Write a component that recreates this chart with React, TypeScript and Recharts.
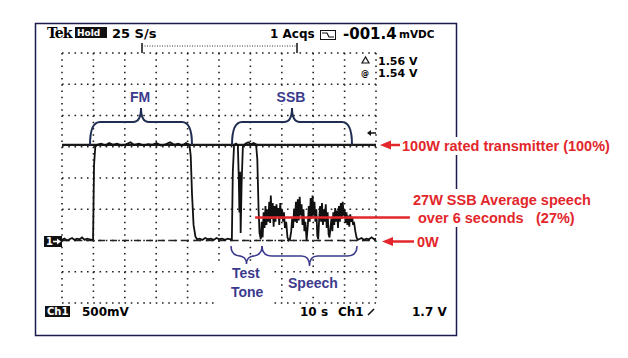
import React from 'react';
import { LineChart, Line, XAxis, YAxis, CartesianGrid, ReferenceLine } from 'recharts';

// time in seconds (10 s/div), level in volts (500 mV/div, 0 V = the "1" marker)
const idleLead: [number, number][] = [
  [0, 0.01], [0.8, 0.03], [1.6, 0.0], [2.4, 0.02], [3.2, 0.04], [4.0, 0.01], [4.8, 0.03],
  [5.6, 0.02], [6.4, 0.05], [7.2, 0.01], [8.0, 0.03], [8.8, 0.02], [9.6, 0.01],
];
const fmPulse: [number, number][] = [
  [9.9, 0.02], [10.2, 1.2], [10.6, 1.5], [11.2, 1.53], [12.5, 1.55], [13.8, 1.52], [15.0, 1.56],
  [16.3, 1.53], [17.5, 1.55], [19.0, 1.52], [20.4, 1.54], [21.8, 1.57], [23.0, 1.53], [24.5, 1.55],
  [26.0, 1.52], [27.4, 1.54], [28.8, 1.53], [30.1, 1.56], [31.5, 1.52], [33.0, 1.54], [34.4, 1.57],
  [35.8, 1.53], [37.0, 1.55], [38.3, 1.52], [39.5, 1.56], [40.6, 1.53], [41.0, 1.35], [41.4, 0.75],
  [41.9, 0.25], [42.5, 0.06], [43.0, 0.02],
];
const idleGap: [number, number][] = [
  [43.8, 0.03], [44.7, 0.01], [45.6, 0.04], [46.5, 0.02], [47.4, 0.03], [48.3, 0.01],
  [49.2, 0.04], [50.1, 0.02], [51.0, 0.03], [51.9, 0.01], [52.8, 0.03], [53.6, 0.02],
];
const testTone: [number, number][] = [
  [54.1, 0.02], [54.4, 1.1], [54.8, 1.53], [55.4, 1.55], [56.0, 1.52], [56.3, 1.0], [56.5, 0.45],
  [56.7, 1.1], [56.9, 0.12], [57.2, 0.9], [57.6, 1.5], [58.4, 1.55], [59.3, 1.57], [60.2, 1.54],
  [61.0, 1.56], [61.8, 1.54], [62.2, 1.3], [62.6, 0.5], [62.9, 0.12],
];
const speech: [number, number][] = [
  [63.0, 0.1], [63.3, 0.02], [63.6, 0.3], [63.9, 0.05], [64.2, 0.45], [64.5, 0.2], [64.8, 0.55],
  [65.1, 0.25], [65.4, 0.5], [65.7, 0.3], [66.0, 0.62], [66.3, 0.28], [66.5, 0.72], [66.8, 0.35],
  [67.1, 0.6], [67.4, 0.22], [67.7, 0.55], [68.0, 0.3], [68.3, 0.58], [68.6, 0.38], [68.9, 0.52],
  [69.2, 0.25], [69.5, 0.6], [69.8, 0.35], [70.1, 0.5], [70.4, 0.3], [70.7, 0.45], [71.0, 0.2],
  [71.4, 0.3], [71.8, 0.05], [72.2, 0.0], [72.6, 0.02], [73.0, 0.15], [73.3, 0.35], [73.6, 0.2],
  [73.9, 0.5], [74.2, 0.3], [74.5, 0.62], [74.8, 0.28], [75.1, 0.66], [75.4, 0.32], [75.7, 0.7],
  [76.0, 0.4], [76.3, 0.58], [76.6, 0.25], [76.9, 0.5], [77.2, 0.15], [77.5, 0.3], [77.9, 0.0],
  [78.3, 0.25], [78.6, 0.55], [78.9, 0.3], [79.2, 0.68], [79.5, 0.35], [79.8, 0.72], [80.1, 0.4],
  [80.4, 0.62], [80.7, 0.3], [81.0, 0.5], [81.3, 0.08], [81.6, 0.02], [81.9, 0.35], [82.2, 0.55],
  [82.5, 0.3], [82.8, 0.6], [83.1, 0.25], [83.4, 0.5], [83.7, 0.3], [84.0, 0.58], [84.3, 0.2],
  [84.6, 0.45], [84.9, 0.1], [85.2, 0.05], [85.5, 0.2], [85.8, 0.35], [86.1, 0.15], [86.4, 0.45],
  [86.7, 0.25], [87.0, 0.52], [87.3, 0.3], [87.6, 0.48], [87.9, 0.2], [88.2, 0.55], [88.5, 0.3],
  [88.8, 0.6], [89.1, 0.35], [89.4, 0.62], [89.7, 0.4], [90.0, 0.5], [90.3, 0.28], [90.6, 0.45],
  [90.9, 0.25], [91.2, 0.4], [91.5, 0.22], [91.8, 0.42], [92.1, 0.3], [92.4, 0.38], [92.7, 0.25],
  [93.0, 0.3], [93.4, 0.15], [93.8, 0.05], [94.2, 0.01],
];
const idleTail: [number, number][] = [
  [94.6, 0.02], [95.4, 0.04], [96.2, 0.01], [97.0, 0.03], [97.8, 0.02], [98.6, 0.05], [99.4, 0.02], [100, 0.03],
];

const fullPower = 1.53; // 100 W rated level
const avgSpeech = 0.37; // 27 W average over the speech
const avgFrom = 61.5;
const avgTo = 110.8;

const timeTicks = [0, 10, 20, 30, 40, 50, 60, 70, 80, 90, 100];
const voltTicks = [-1, -0.5, 0, 0.5, 1, 1.5, 2, 2.5, 3];
const timeMinor = Array.from({ length: 51 }, (_, i) => i * 2);
const voltMinor = Array.from({ length: 41 }, (_, i) => -1 + i * 0.1);

const trace = [...idleLead, ...fmPulse, ...idleGap, ...testTone, ...speech, ...idleTail].map(([t, v]) => ({ t, v }));

const W = 628;
const H = 358;
const NAVY = '#3b3a8c';
const BRACE = '#1f2d52';
const RED = '#e2262b';
const scope = '"DejaVu Sans", Verdana, sans-serif';
const label = '"Liberation Sans", Arial, sans-serif';

const edge = { stroke: '#111', strokeWidth: 2 };
const edgeTick = { stroke: '#111', strokeWidth: 1.3 };

// horizontal curly brace between x1 and x2, ends at yEnd, arms at yArm, point at yTip
const brace = (x1: number, x2: number, yEnd: number, yArm: number, yTip: number) => {
  const mid = (x1 + x2) / 2;
  return `M${x1},${yEnd} Q${x1},${yArm} ${x1 + 10},${yArm} L${mid - 8},${yArm} Q${mid},${yArm} ${mid},${yTip}` +
    ` Q${mid},${yArm} ${mid + 8},${yArm} L${x2 - 10},${yArm} Q${x2},${yArm} ${x2},${yEnd}`;
};

const Arrow = ({ x1, x2, y }: { x1: number; x2: number; y: number }) => (
  <g>
    <line x1={x1 + 10} x2={x2} y1={y} y2={y} stroke={RED} strokeWidth={2.5} />
    <polygon points={`${x1},${y} ${x1 + 11},${y - 4.5} ${x1 + 11},${y + 4.5}`} fill={RED} />
  </g>
);

export default function App() {
  return (
    <div style={{ position: 'absolute', left: 0, top: 0, width: W, height: H, background: '#fff' }}>
      <LineChart width={W} height={H} data={trace} margin={{ top: 53, left: 62, right: 252, bottom: 55 }}>
        <XAxis dataKey="t" type="number" domain={[0, 100]} ticks={timeTicks} hide />
        <YAxis type="number" domain={[-1, 3]} ticks={voltTicks} hide />
        <XAxis xAxisId="edgeB" type="number" domain={[0, 100]} ticks={timeMinor} orientation="bottom" height={0}
          mirror tick={false} tickSize={4} axisLine={edge} tickLine={edgeTick} />
        <XAxis xAxisId="edgeT" type="number" domain={[0, 100]} ticks={timeMinor} orientation="top" height={0}
          mirror tick={false} tickSize={4} axisLine={edge} tickLine={edgeTick} />
        <YAxis yAxisId="edgeL" type="number" domain={[-1, 3]} ticks={voltMinor} orientation="left" width={0}
          mirror tick={false} tickSize={4} axisLine={edge} tickLine={edgeTick} />
        <YAxis yAxisId="edgeR" type="number" domain={[-1, 3]} ticks={voltMinor} orientation="right" width={0}
          mirror tick={false} tickSize={4} axisLine={edge} tickLine={edgeTick} />
        <CartesianGrid stroke="#222" strokeWidth={1.6} strokeDasharray="1.6 4.65" />
        <ReferenceLine y={0} stroke="#222" strokeWidth={1.6} strokeDasharray="7 5" />
        <ReferenceLine y={fullPower} stroke="#1a1a1a" strokeWidth={2.2} />
        <Line dataKey="v" type="linear" stroke="#111" strokeWidth={1.8} dot={false} isAnimationActive={false} />
        <ReferenceLine ifOverflow="visible" stroke={RED} strokeWidth={2.5}
          segment={[{ x: avgFrom, y: avgSpeech }, { x: avgTo, y: avgSpeech }]} />
      </LineChart>

      <svg width={W} height={H} style={{ position: 'absolute', left: 0, top: 0, pointerEvents: 'none' }}>
        <rect x={35.5} y={23.5} width={421} height={312} fill="none" stroke="#1b1b4d" strokeWidth={1.5} />

        {/* header */}
        <text x={47} y={38} fontFamily='"DejaVu Serif", serif' fontWeight="bold" fontSize={14} letterSpacing={-1}>Tek</text>
        <rect x={75} y={27} width={32} height={11} fill="#111" />
        <text x={77} y={36} fill="#fff" fontFamily={scope} fontWeight="bold" fontSize={9}>Hold</text>
        <text x={112} y={38} fontFamily={scope} fontWeight="bold" fontSize={13}>25 S/s</text>
        <text x={270} y={38} fontFamily={scope} fontWeight="bold" fontSize={12}>1 Acqs</text>
        <rect x={320.5} y={30.5} width={15} height={9} fill="none" stroke="#111" />
        <polyline points="322,33 327,33 329,37 334,37" fill="none" stroke="#111" strokeWidth={1.2} />
        <text x={343} y={39} fontFamily={scope} fontWeight="bold" fontSize={15}>-001.4</text>
        <text x={399} y={38} fontFamily={scope} fontWeight="bold" fontSize={10.5}>mVDC</text>

        {/* record bar */}
        <line x1={142} x2={142} y1={43} y2={53} stroke="#111" strokeWidth={1.5} />
        <line x1={142} x2={297} y1={46} y2={46} stroke="#333" strokeWidth={1} strokeDasharray="1 1.5" />
        <line x1={297} x2={297} y1={43} y2={53} stroke="#111" strokeWidth={1.5} />

        {/* cursor readouts */}
        <polygon points="365.5,57 362,63 369,63" fill="none" stroke="#111" strokeWidth={1.2} />
        <text x={378} y={65} fontFamily={scope} fontWeight="bold" fontSize={11}>1.56 V</text>
        <text x={361} y={76} fontFamily={scope} fontWeight="bold" fontSize={8}>@</text>
        <text x={378} y={77} fontFamily={scope} fontWeight="bold" fontSize={11}>1.54 V</text>

        {/* trigger level marker */}
        <line x1={369} x2={376} y1={133} y2={133} stroke="#111" strokeWidth={1.5} />
        <polygon points="367,133 371,130 371,136" fill="#111" />

        {/* channel 1 ground marker */}
        <rect x={44} y={236} width={18} height={11} fill="#111" />
        <text x={46} y={245} fill="#fff" fontFamily={scope} fontWeight="bold" fontSize={10}>1</text>
        <line x1={53} x2={58} y1={241.5} y2={241.5} stroke="#fff" strokeWidth={1.6} />
        <polygon points="61,241.5 57,238.5 57,244.5" fill="#fff" />

        {/* footer */}
        <rect x={45} y={306} width={25} height={11} fill="#111" />
        <text x={47} y={315} fill="#fff" fontFamily={scope} fontWeight="bold" fontSize={10}>Ch1</text>
        <text x={82} y={316} fontFamily={scope} fontWeight="bold" fontSize={12}>500mV</text>
        <text x={300} y={316} fontFamily={scope} fontWeight="bold" fontSize={12}>10 s</text>
        <text x={338} y={316} fontFamily={scope} fontWeight="bold" fontSize={12}>Ch1</text>
        <line x1={368} x2={374} y1={315} y2={309} stroke="#111" strokeWidth={1.6} />
        <text x={412} y={316} fontFamily={scope} fontWeight="bold" fontSize={12}>1.7 V</text>

        {/* annotation labels */}
        <rect x={127} y={88} width={26} height={16} fill="#fff" />
        <text x={140} y={102} textAnchor="middle" fill={NAVY} fontFamily={label} fontWeight="bold" fontSize={14}>FM</text>
        <rect x={275} y={88} width={33} height={16} fill="#fff" />
        <text x={291} y={102} textAnchor="middle" fill={NAVY} fontFamily={label} fontWeight="bold" fontSize={14}>SSB</text>
        <path d={brace(90, 192, 145, 122, 108)} fill="none" stroke={BRACE} strokeWidth={2} />
        <path d={brace(232, 352, 145, 122, 108)} fill="none" stroke={BRACE} strokeWidth={2} />

        <rect x={217} y={261} width={53} height={43} fill="#fff" />
        <rect x={286} y={275} width={55} height={17} fill="#fff" />
        <path d={brace(231, 262, 246, 256, 264)} fill="none" stroke={NAVY} strokeWidth={1.5} />
        <path d={brace(262, 357, 246, 256, 266)} fill="none" stroke={NAVY} strokeWidth={1.5} />
        <text x={232} y={278} fill={NAVY} fontFamily={label} fontWeight="bold" fontSize={14}>Test</text>
        <text x={231} y={297} fill={NAVY} fontFamily={label} fontWeight="bold" fontSize={14}>Tone</text>
        <text x={288} y={288} fill={NAVY} fontFamily={label} fontWeight="bold" fontSize={14}>Speech</text>

        {/* power callouts */}
        <rect x={400} y={137} width={214} height={18} fill="#fff" />
        <rect x={411} y={189} width={186} height={38} fill="#fff" />
        <rect x={415} y={233} width={26} height={16} fill="#fff" />
        <Arrow x1={380} x2={400} y={145} />
        <Arrow x1={382} x2={414} y={241.5} />
        <text x={402} y={150.5} fill={RED} fontFamily={label} fontWeight="bold" fontSize={14.5}>100W rated transmitter (100%)</text>
        <text x={413} y={204.5} fill={RED} fontFamily={label} fontWeight="bold" fontSize={14.5}>27W SSB Average speech</text>
        <text x={418} y={222.5} fill={RED} fontFamily={label} fontWeight="bold" fontSize={14.5}>over 6 seconds</text>
        <text x={536} y={222.5} fill={RED} fontFamily={label} fontWeight="bold" fontSize={14.5}>(27%)</text>
        <text x={417} y={246.5} fill={RED} fontFamily={label} fontWeight="bold" fontSize={14.5}>0W</text>
      </svg>
    </div>
  );
}
